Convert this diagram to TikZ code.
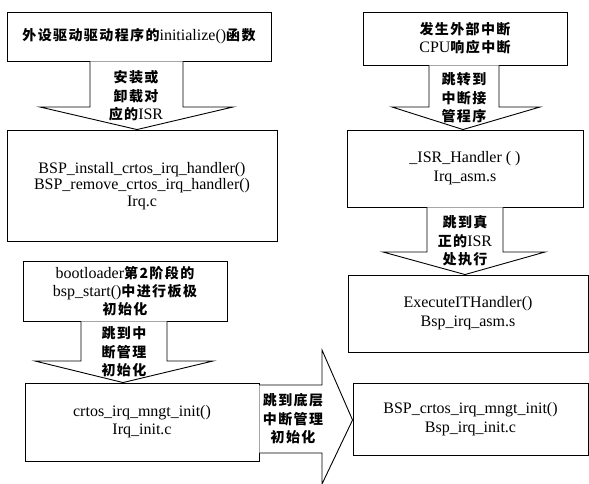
\documentclass[tikz,border=0pt]{standalone}
\usepackage{fontspec}
\setmainfont{Liberation Serif}
\newfontfamily\cjkfont[LetterSpace=10]{Noto Sans CJK SC}
\newcommand\zh[1]{{\cjkfont\bfseries\fontsize{14}{18}\selectfont #1}}
\usetikzlibrary{calc}
\tikzset{
  box/.style={draw, line width=0.9pt, inner sep=0pt, align=center, font=\fontsize{16}{18}\selectfont},
  barrow/.style={draw, line width=0.9pt, fill=white},
  atext/.style={align=center, inner sep=0pt, font=\fontsize{16}{18.5}\selectfont}
}
\begin{document}
\begin{tikzpicture}[x=1pt,y=-1pt]
\useasboundingbox (0,0) rectangle (589,484);
% left column
\node[box, minimum width=264pt, minimum height=49pt] (b1) at (139,36.5)
  {\zh{外设驱动驱动程序的}initialize()\zh{函数}};
\node[box, minimum width=270pt, minimum height=111pt] (b2) at (142,185.5) {};
\node[atext, font=\fontsize{16}{16.5}\selectfont] (b2t) at (142,186)
  {BSP\_install\_crtos\_irq\_handler()\\BSP\_remove\_crtos\_irq\_handler()\\Irq.c};
\node[box, minimum width=204pt, minimum height=60pt] (bl) at (125,291)
  {bootloader\zh{第2阶段的}\\bsp\_start()\zh{中进行板极}\\\zh{初始化}};
\node[box, minimum width=234pt, minimum height=78pt, font=\fontsize{16}{18}\selectfont] (c1) at (142,422)
  {crtos\_irq\_mngt\_init()\\Irq\_init.c};
% right column
\node[box, minimum width=204pt, minimum height=53pt] (r1) at (465,38.5)
  {\zh{发生外部中断}\\CPU\zh{响应中断}};
\node[box, minimum width=236pt, minimum height=77pt, font=\fontsize{16}{19}\selectfont] (r2) at (465,168.5)
  {\_ISR\_Handler ( )\\Irq\_asm.s};
\node[box, minimum width=240pt, minimum height=77pt, font=\fontsize{16}{19}\selectfont] (r3) at (468,313.5)
  {ExecuteITHandler()\\Bsp\_irq\_asm.s};
\node[box, minimum width=235pt, minimum height=72pt, font=\fontsize{16}{19}\selectfont] (bsp) at (470.5,419)
  {BSP\_crtos\_irq\_mngt\_init()\\Bsp\_irq\_init.c};
% block arrows
\draw[barrow] (b1.south -| 90,0) -- (90,107) -- (40,107) -- (b2.north -| 137,0) -- (233,107) -- (183,107) -- (b1.south -| 183,0);
\node[atext] (a1) at (136,96) {\zh{安装或}\\\zh{卸载对}\\\zh{应的}ISR};
\draw[barrow] (r1.south -| 429,0) -- (429,107) -- (392,107) -- (r2.north -| 463,0) -- (540,107) -- (499,107) -- (r1.south -| 499,0);
\node[atext] (a2) at (464,98) {\zh{跳转到}\\\zh{中断接}\\\zh{管程序}};
\draw[barrow] (r2.south -| 427,0) -- (427,252) -- (383,252) -- (r3.north -| 465,0) -- (545,252) -- (503,252) -- (r2.south -| 503,0);
\node[atext] (a3) at (465,241) {\zh{跳到真}\\\zh{正的}ISR\\\zh{处执行}};
\draw[barrow] (bl.south -| 81,0) -- (81,361) -- (35,361) -- (c1.north -| 123,0) -- (213,361) -- (167,361) -- (bl.south -| 167,0);
\node[atext] (a4) at (124,352) {\zh{跳到中}\\\zh{断管理}\\\zh{初始化}};
\draw[barrow] (c1.east |- 0,385) -- (322,385) -- (322,350) -- (bsp.west |- 0,420) -- (322,484) -- (322,453) -- (c1.east |- 0,453);
\node[atext] (a5) at (293,419) {\zh{跳到底层}\\\zh{中断管理}\\\zh{初始化}};
\end{tikzpicture}
\end{document}
